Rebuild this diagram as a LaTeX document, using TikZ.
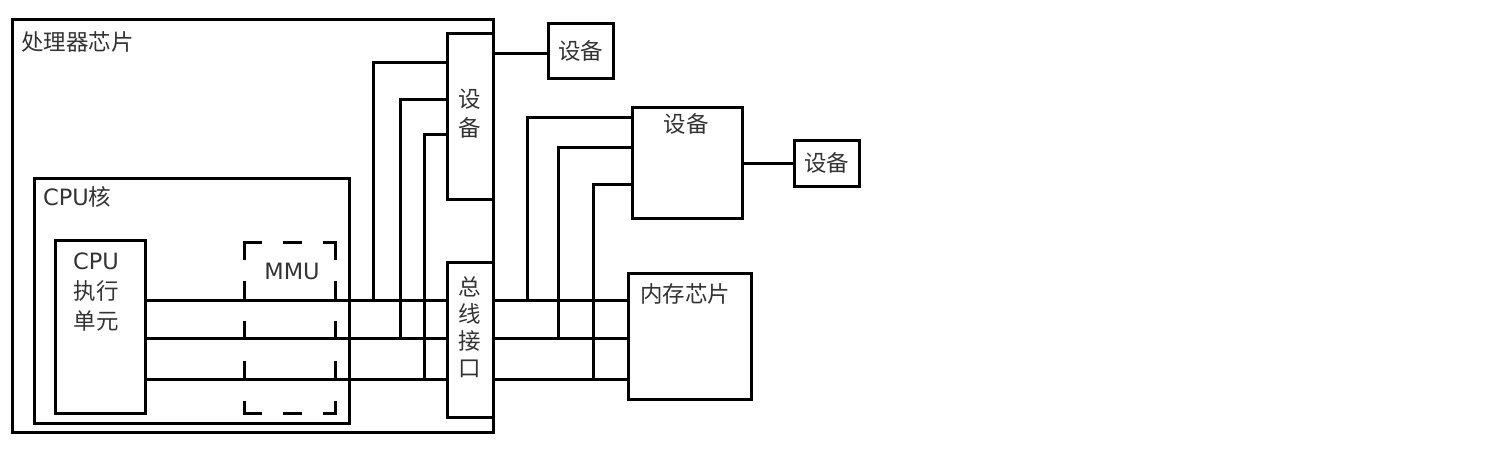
\documentclass[tikz,border=0pt]{standalone}
\usepackage{fontspec}
\setmainfont{DejaVu Sans}
\newfontfamily\cjk{Noto Sans CJK SC}
\usetikzlibrary{calc}
\definecolor{txt}{HTML}{333333}
\begin{document}
\begin{tikzpicture}[x=1pt,y=-1pt,
  box/.style={draw, line width=3pt, inner sep=0pt, outer sep=0pt, text=txt, font=\fontsize{22.5}{27}\selectfont},
  area/.style={inner sep=0pt, outer sep=0pt},
  lbl/.style={text=txt, inner sep=0pt, font=\fontsize{22.5}{27}\selectfont},
  wire/.style={line width=3pt},
  mmudash/.style={line width=3pt, dash pattern=on 16pt off 24pt, line cap=rect}]
\useasboundingbox (0,0) rectangle (1488,456);
% boxes
\node[box, minimum width=481pt, minimum height=413pt] (chip) at (252.5,225.5) {};
\node[box, minimum width=46pt, minimum height=166pt] (devV) at (470,116) {};
\node[box, minimum width=315pt, minimum height=245pt] (core) at (191.5,300.5) {};
\node[box, minimum width=90pt, minimum height=173pt] (exec) at (100,326.5) {};
\node[area, minimum width=91pt, minimum height=171pt] (mmu) at (289.5,327.5) {};
\node[box, minimum width=46pt, minimum height=155pt] (bus) at (470,339.5) {};
\node[box, minimum width=65pt, minimum height=55pt] (dev1) at (580.5,50.5) {\cjk 设备};
\node[box, minimum width=110pt, minimum height=111pt] (dev2) at (687,162.5) {};
\node[box, minimum width=65pt, minimum height=46pt] (dev3) at (826.5,163) {\cjk 设备};
\node[box, minimum width=123pt, minimum height=126pt] (mem) at (689.5,336) {};
% dashed MMU outline
\draw[mmudash] (mmu.north west) -- (mmu.north east);
\draw[mmudash] (mmu.south west) -- (mmu.south east);
\draw[mmudash] (mmu.north west) -- (mmu.south west);
\draw[mmudash] (mmu.north east) -- (mmu.south east);
% labels
\node[lbl, anchor=west] (chiplbl) at (21,42) {\cjk 处理器芯片};
\node[lbl, anchor=west] (corelbl) at (43,197) {CPU{\cjk 核}};
\node[lbl, align=center, font=\fontsize{22.5}{30}\selectfont] (execlbl) at (96,292) {CPU\\{\cjk 执行}\\{\cjk 单元}};
\node[lbl] (mmulbl) at (292,271) {MMU};
\node[lbl, align=center, font=\fontsize{22.5}{29}\selectfont] (devVlbl) at (470,113.5) {{\cjk 设}\\{\cjk 备}};
\node[lbl, align=center, font=\fontsize{22.5}{27}\selectfont] (buslbl) at (470,327) {{\cjk 总}\\{\cjk 线}\\{\cjk 接}\\{\cjk 口}};
\node[lbl] (dev2lbl) at (686,124) {\cjk 设备};
\node[lbl, anchor=west] (memlbl) at (640,294) {\cjk 内存芯片};
% helper coordinates
\coordinate (r1) at (0,300);
\coordinate (r2) at (0,338);
\coordinate (r3) at (0,379);
\coordinate (a1) at (373,62);
\coordinate (a2) at (400,99);
\coordinate (a3) at (424,134);
\coordinate (b1) at (527,117);
\coordinate (b2) at (558,147);
\coordinate (b3) at (593,184);
\coordinate (c1) at (0,53);
% bus lines inside chip
\draw[wire] (exec.east |- r1) -- (bus.west |- r1);
\draw[wire] (exec.east |- r2) -- (bus.west |- r2);
\draw[wire] (exec.east |- r3) -- (bus.west |- r3);
\draw[wire] (a1 |- r1) -- (a1) -- (devV.west |- a1);
\draw[wire] (a2 |- r2) -- (a2) -- (devV.west |- a2);
\draw[wire] (a3 |- r3) -- (a3) -- (devV.west |- a3);
% bus lines outside chip
\draw[wire] (bus.east |- r1) -- (mem.west |- r1);
\draw[wire] (bus.east |- r2) -- (mem.west |- r2);
\draw[wire] (bus.east |- r3) -- (mem.west |- r3);
\draw[wire] (b1 |- r1) -- (b1) -- (dev2.west |- b1);
\draw[wire] (b2 |- r2) -- (b2) -- (dev2.west |- b2);
\draw[wire] (b3 |- r3) -- (b3) -- (dev2.west |- b3);
% device links
\draw[wire] (devV.east |- c1) -- (dev1.west |- c1);
\draw[wire] (dev2.east |- dev3.west) -- (dev3.west);
\end{tikzpicture}
\end{document}
